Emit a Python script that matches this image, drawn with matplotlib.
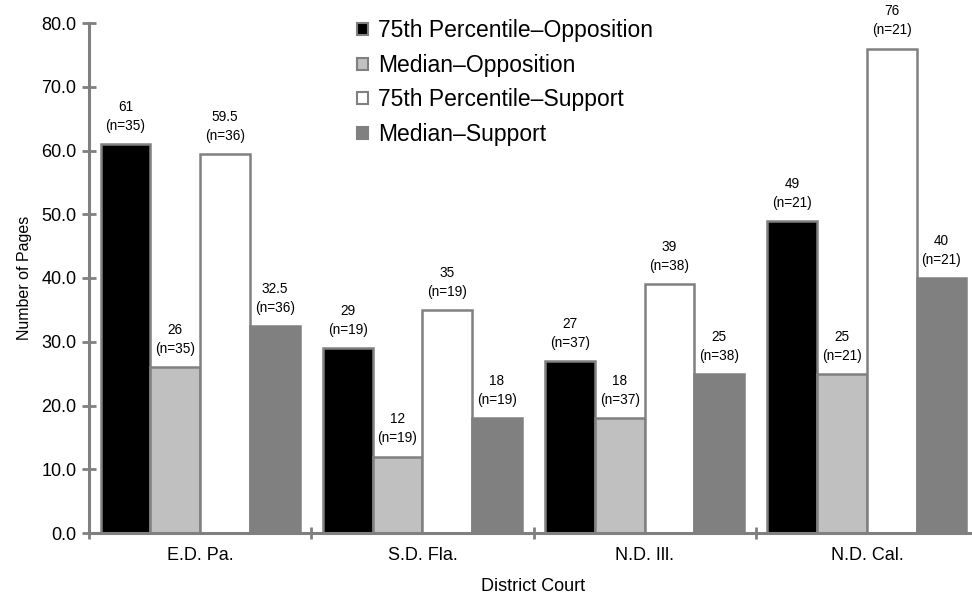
import numpy as np
import matplotlib
matplotlib.use("Agg")
import matplotlib.pyplot as plt
from matplotlib.patches import Patch

plt.rcParams['font.family'] = ['Liberation Sans', 'DejaVu Sans']

courts = ['E.D. Pa.', 'S.D. Fla.', 'N.D. Ill.', 'N.D. Cal.']
series_names = ['75th Percentile\u2013Opposition', 'Median\u2013Opposition',
                '75th Percentile\u2013Support', 'Median\u2013Support']
p75_opp = [61, 29, 27, 49]
med_opp = [26, 12, 18, 25]
p75_sup = [59.5, 35, 39, 76]
med_sup = [32.5, 18, 25, 40]
n_opp = [35, 19, 37, 21]
n_sup = [36, 19, 38, 21]

series = [p75_opp, med_opp, p75_sup, med_sup]
counts = [n_opp, n_opp, n_sup, n_sup]
colors = ['#000000', '#c0c0c0', '#ffffff', '#808080']
edge = '#808080'

fig = plt.figure(figsize=(9.72, 5.99), dpi=100)
ax = fig.add_axes([89 / 972, 66 / 599, 889 / 972, 510 / 599])

x = np.arange(len(courts))
w = 0.2236
for i, vals in enumerate(series):
    pos = x + (i - 1.5) * w
    ax.bar(pos, vals, width=w, color=colors[i], edgecolor=edge, linewidth=1.8, zorder=2)
    for xp, v, n in zip(pos, vals, counts[i]):
        lab = ('%g' % v) + '\n(n=%d)' % n
        ax.annotate(lab, (xp, v), xytext=(0, 8), textcoords='offset points',
                    ha='center', va='bottom', fontsize=9.8, linespacing=1.45)

ax.set_xlim(-0.5, 3.5)
ax.set_ylim(0, 80)
ax.set_yticks(np.arange(0, 81, 10))
ax.set_yticklabels(['%.1f' % t for t in np.arange(0, 81, 10)])

ax.set_xticks(np.arange(-0.5, 4, 1.0))
ax.set_xticklabels([])
ax.set_xticks(x, minor=True)
ax.set_xticklabels(courts, minor=True)
ax.tick_params(axis='x', which='minor', length=0, pad=10, labelsize=13)
ax.tick_params(axis='x', which='major', direction='inout', length=8, width=2, color=edge)
ax.tick_params(axis='y', direction='inout', length=10, width=2, color=edge, pad=4, labelsize=13)

for s in ['top', 'right']:
    ax.spines[s].set_visible(False)
for s in ['left', 'bottom']:
    ax.spines[s].set_color(edge)
    ax.spines[s].set_linewidth(2.2)
ax.spines['bottom'].set_zorder(3)

ax.set_ylabel('Number of Pages', fontsize=11.5, labelpad=7)
ax.set_xlabel('District Court', fontsize=13, labelpad=10)

handles = [Patch(facecolor=c, edgecolor=edge, linewidth=1.5) for c in colors]
ax.legend(handles, series_names, loc='upper left', bbox_to_anchor=(346 / 972, 1 - 8 / 599),
          bbox_transform=fig.transFigure, frameon=False, fontsize=16.5, borderpad=0,
          handlelength=0.45, handleheight=0.45, handletextpad=0.45, labelspacing=0.5)

fig.savefig('out.png', dpi=100)
